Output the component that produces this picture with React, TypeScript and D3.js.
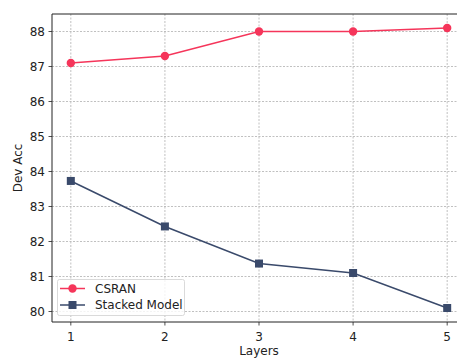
import React from "react";
import * as d3 from "d3";

const layers = [1, 2, 3, 4, 5];
const csran = [87.1, 87.3, 88.0, 88.0, 88.1];
const stacked = [83.73, 82.43, 81.37, 81.1, 80.1];
const yTicks = [80, 81, 82, 83, 84, 85, 86, 87, 88];
const seriesNames = ["CSRAN", "Stacked Model"];

const W = 457, H = 358;
const left = 52, right = 466, top = 14, bottom = 322;
const red = "#f5355a";
const navy = "#3a4a6b";
const font = "DejaVu Sans, sans-serif";
const fs = 12;
const sq = 8;

export default function App() {
  const x = d3.scaleLinear().domain([0.8, 5.2]).range([left, right]);
  const y = d3.scaleLinear().domain([79.7, 88.5]).range([bottom, top]);
  const line = d3.line<number>().x((_, i) => x(layers[i])).y((d) => y(d));
  return (
    <svg width={W} height={H} style={{ position: "absolute", left: 0, top: 0, background: "#fff" }} fontFamily={font}>
      <defs>
        <clipPath id="clip"><rect x={left} y={top} width={right - left} height={bottom - top} /></clipPath>
      </defs>
      <g>
        {layers.map((l) => (
          <line key={"gx" + l} x1={x(l)} x2={x(l)} y1={top} y2={bottom} stroke="#b0b0b0" strokeWidth={0.8} strokeDasharray="2,1.5" />
        ))}
        {yTicks.map((t) => (
          <line key={"gy" + t} x1={left} x2={right} y1={y(t)} y2={y(t)} stroke="#b0b0b0" strokeWidth={0.8} strokeDasharray="2,1.5" />
        ))}
      </g>
      <g clipPath="url(#clip)">
        <path d={line(csran) || ""} fill="none" stroke={red} strokeWidth={1.5} />
        {csran.map((v, i) => (
          <circle key={"c" + i} cx={x(layers[i])} cy={y(v)} r={4.2} fill={red} />
        ))}
        <path d={line(stacked) || ""} fill="none" stroke={navy} strokeWidth={1.5} />
        {stacked.map((v, i) => (
          <rect key={"s" + i} x={x(layers[i]) - sq / 2} y={y(v) - sq / 2} width={sq} height={sq} fill={navy} />
        ))}
      </g>
      <line x1={left} x2={left} y1={top} y2={bottom} stroke="#222" strokeWidth={1} />
      <line x1={left} x2={right} y1={bottom} y2={bottom} stroke="#222" strokeWidth={1} />
      <line x1={left} x2={right} y1={top} y2={top} stroke="#222" strokeWidth={1} />
      <line x1={right} x2={right} y1={top} y2={bottom} stroke="#222" strokeWidth={1} />
      {layers.map((l) => (
        <g key={"tx" + l}>
          <line x1={x(l)} x2={x(l)} y1={bottom} y2={bottom + 3.5} stroke="#222" strokeWidth={0.8} />
          <text x={x(l)} y={bottom + 19} textAnchor="middle" fontSize={fs} fill="#222">{l}</text>
        </g>
      ))}
      {yTicks.map((t) => (
        <g key={"ty" + t}>
          <line x1={left - 3.5} x2={left} y1={y(t)} y2={y(t)} stroke="#222" strokeWidth={0.8} />
          <text x={left - 7} y={y(t) + 4.3} textAnchor="end" fontSize={fs} fill="#222">{t}</text>
        </g>
      ))}
      <text x={259} y={355} textAnchor="middle" fontSize={fs} fill="#222">Layers</text>
      <text transform={`translate(22,${(top + bottom) / 2}) rotate(-90)`} textAnchor="middle" fontSize={fs} fill="#222">Dev Acc</text>
      <g>
        <rect x={57.5} y={279.5} width={127} height={36} rx={2} fill="#fff" fillOpacity={0.8} stroke="#d0d0d0" strokeWidth={0.8} />
        <line x1={60} x2={85} y1={288.5} y2={288.5} stroke={red} strokeWidth={1.5} />
        <circle cx={72.5} cy={288.5} r={4.2} fill={red} />
        <text x={95} y={292.8} fontSize={fs} fill="#222">{seriesNames[0]}</text>
        <line x1={60} x2={85} y1={305} y2={305} stroke={navy} strokeWidth={1.5} />
        <rect x={72.5 - sq / 2} y={305 - sq / 2} width={sq} height={sq} fill={navy} />
        <text x={95} y={309.3} fontSize={fs} fill="#222">{seriesNames[1]}</text>
      </g>
    </svg>
  );
}
